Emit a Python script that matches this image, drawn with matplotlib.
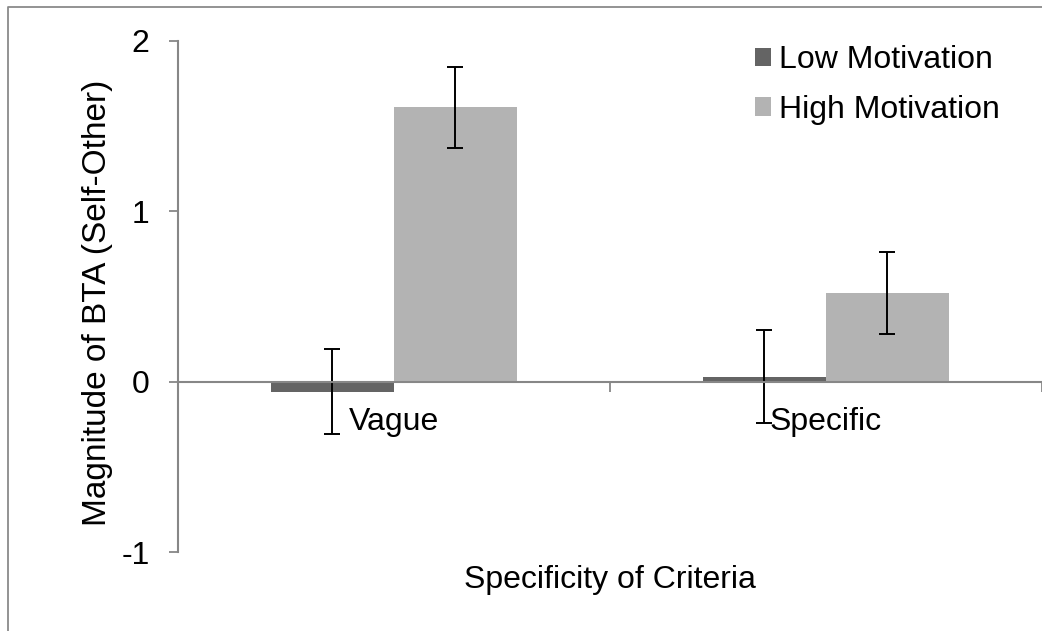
import numpy as np
import matplotlib
matplotlib.use("Agg")
import matplotlib.pyplot as plt
from matplotlib.lines import Line2D

plt.rcParams["font.family"] = ["Liberation Sans", "DejaVu Sans"]
plt.rcParams["axes.unicode_minus"] = False

categories = ["Vague", "Specific"]
series = ["Low Motivation", "High Motivation"]
low_values = [-0.06, 0.03]
low_errors = [0.25, 0.275]
high_values = [1.61, 0.52]
high_errors = [0.24, 0.24]
y_ticks = [-1, 0, 1, 2]

LOW_COLOR = "#646464"
HIGH_COLOR = "#b3b3b3"
AXIS_COLOR = "#878787"
FS = 23

fig = plt.figure(figsize=(10.42, 6.31), dpi=100)
ax = fig.add_axes([178 / 1042, 1 - 552 / 631, 863.5 / 1042, 511 / 631])

x = np.arange(len(categories))
width = 0.285
err_kw = dict(ecolor="black", elinewidth=1.4, capsize=6, capthick=1.4)
ax.bar(x - width / 2, low_values, width, yerr=low_errors, color=LOW_COLOR,
       label=series[0], error_kw=err_kw, zorder=2)
ax.bar(x + width / 2, high_values, width, yerr=high_errors, color=HIGH_COLOR,
       label=series[1], error_kw=err_kw, zorder=2)

ax.set_xlim(-0.5, 1.5)
ax.set_ylim(-1, 2)
ax.set_yticks(y_ticks)
ax.tick_params(axis="y", labelsize=FS, length=6.5, width=1.3, color=AXIS_COLOR, pad=14)

# category boundaries get the tick marks, names sit just under the zero line
ax.set_xticks([0.5, 1.5])
ax.set_xticklabels([])
ax.set_xticks(x, minor=True)
ax.set_xticklabels(categories, minor=True)
ax.tick_params(axis="x", which="major", length=7, width=1.3, color=AXIS_COLOR, direction="out")
ax.tick_params(axis="x", which="minor", length=0, labelsize=FS, pad=18)

for side in ["top", "right"]:
    ax.spines[side].set_visible(False)
ax.spines["bottom"].set_position(("data", 0))
for side in ["left", "bottom"]:
    ax.spines[side].set_color(AXIS_COLOR)
    ax.spines[side].set_linewidth(1.5)
ax.spines["bottom"].set_zorder(3)

ax.set_ylabel("Magnitude of BTA (Self-Other)", fontsize=24)
ax.yaxis.set_label_coords(-0.0753, 0.487)
ax.set_xlabel("Specificity of Criteria", fontsize=FS, va="top")
ax.xaxis.set_label_coords(0.5003, -0.0254)

ax.legend(loc="upper left", bbox_to_anchor=(755 / 1042, 1 - 45 / 631),
          bbox_transform=fig.transFigure, frameon=False, fontsize=FS,
          handlelength=0.5, handleheight=0.5, handletextpad=0.25,
          labelspacing=0.62, borderpad=0, borderaxespad=0)

# grey frame of the original chart area (only top and left edges visible)
bx, by = 8 / 1042, 1 - 6.5 / 631
fig.add_artist(Line2D([bx, bx, 1.0], [0.0, by, by], transform=fig.transFigure,
                      color="#8a8a8a", lw=1.3))

fig.savefig("out.png", dpi=100)
